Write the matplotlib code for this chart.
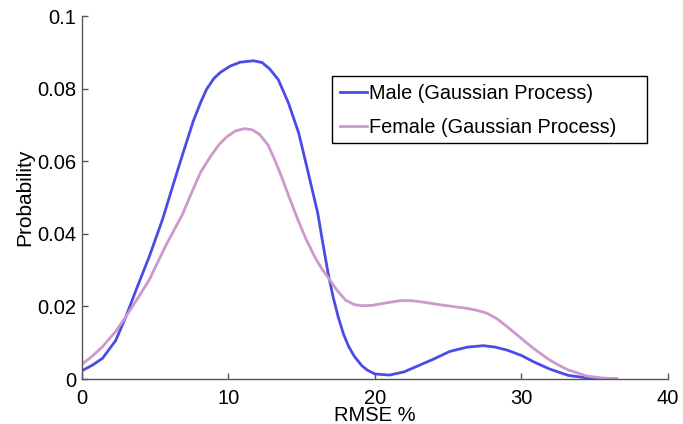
import matplotlib
matplotlib.use("Agg")
import matplotlib.pyplot as plt
from matplotlib.patches import Rectangle

plt.rcParams['font.family'] = ['Liberation Sans', 'DejaVu Sans']

# values
male_x = [0, 0.7, 1.4, 2.3, 3.0, 3.7, 4.6, 5.5, 6.2, 6.8, 7.6, 8.1, 8.5, 9.0, 9.45,
          10.1, 10.8, 11.7, 12.3, 12.8, 13.4, 14.1, 14.8, 15.4, 16.1, 16.45, 16.8,
          17.15, 17.5, 17.85, 18.2, 18.6, 19.1, 19.5, 20.0, 21.0, 22.0, 22.8, 24.0,
          25.1, 26.3, 27.4, 28.2, 29.0, 30.0, 30.8, 31.9, 33.2, 34.5, 36.5]
male_y = [0.0023, 0.0038, 0.0057, 0.0106, 0.0172, 0.0246, 0.0338, 0.0440, 0.0532,
          0.0610, 0.0711, 0.0762, 0.0798, 0.0828, 0.0845, 0.0862, 0.0873, 0.0877,
          0.0872, 0.0855, 0.0825, 0.0760, 0.0677, 0.0576, 0.0456, 0.0372, 0.0292,
          0.0225, 0.0170, 0.0124, 0.0090, 0.0062, 0.0037, 0.0024, 0.0014, 0.0011,
          0.0020, 0.0034, 0.0055, 0.0076, 0.0088, 0.0092, 0.0088, 0.0080, 0.0065,
          0.0048, 0.0028, 0.0010, 0.0003, 0.0]

female_x = [0, 0.7, 1.4, 2.3, 3.0, 3.8, 4.6, 5.7, 6.85, 7.5, 8.1, 8.8, 9.4, 9.9,
            10.5, 11.1, 11.6, 12.1, 12.7, 13.2, 13.6, 14.2, 14.75, 15.3, 15.9, 16.4,
            16.8, 17.4, 18.0, 18.6, 19.1, 19.8, 20.5, 21.7, 22.5, 23.3, 24.4, 25.3,
            26.25, 27.0, 27.6, 28.3, 29.0, 29.9, 30.8, 31.9, 32.6, 33.2, 34.5, 35.5,
            36.5]
female_y = [0.0041, 0.0063, 0.0089, 0.0131, 0.0172, 0.0222, 0.0274, 0.0366, 0.0453,
            0.0515, 0.0570, 0.0615, 0.0648, 0.0668, 0.0684, 0.0690, 0.0687, 0.0675,
            0.0645, 0.0600, 0.0560, 0.0495, 0.0438, 0.0385, 0.0336, 0.0302, 0.0280,
            0.0245, 0.0217, 0.0205, 0.0202, 0.0203, 0.0208, 0.0216, 0.0216, 0.0212,
            0.0205, 0.0200, 0.0195, 0.0189, 0.0182, 0.0167, 0.0145, 0.0115, 0.0085,
            0.0053, 0.0037, 0.0025, 0.0008, 0.0003, 0.0001]

x_ticks = [0, 10, 20, 30, 40]
y_ticks = [0, 0.02, 0.04, 0.06, 0.08, 0.1]
y_tick_labels = ['0', '0.02', '0.04', '0.06', '0.08', '0.1']

fig = plt.figure(figsize=(6.83, 4.24), dpi=100)
ax = fig.add_axes([0.120, 0.106, 0.858, 0.856])

ax.plot(male_x, male_y, color='#4b4be8', lw=2, label='Male (Gaussian Process)')
ax.plot(female_x, female_y, color='#cc99cc', lw=2, label='Female (Gaussian Process)')

ax.set_xlim(0, 40)
ax.set_ylim(0, 0.1)
ax.set_xticks(x_ticks)
ax.set_xticklabels([str(t) for t in x_ticks])
ax.set_yticks(y_ticks)
ax.set_yticklabels(y_tick_labels)

for side in ['top', 'right']:
    ax.spines[side].set_visible(False)
for side in ['left', 'bottom']:
    ax.spines[side].set_color('#555555')
    ax.spines[side].set_linewidth(1)
ax.tick_params(direction='in', length=4, width=1, color='#555555', labelsize=14.5)
ax.tick_params(axis='x', pad=7)
ax.tick_params(axis='y', pad=4)

ax.set_xlabel('RMSE %', fontsize=14.5, labelpad=-1)
ax.set_ylabel('Probability', fontsize=15, labelpad=2)

# matlab-style legend box: wider than its text, so draw the frame separately
ax.add_patch(Rectangle((0.427, 0.650), 0.5375, 0.1846, transform=ax.transAxes,
                       facecolor='white', edgecolor='black', lw=1, zorder=4))
leg = ax.legend(loc='upper left', bbox_to_anchor=(0.427, 0.835), fontsize=14.3,
                frameon=False, handlelength=1.36, handletextpad=0.1,
                borderpad=0.38, labelspacing=0.8, borderaxespad=0)
leg.set_zorder(5)

fig.savefig('out.png', dpi=100)
